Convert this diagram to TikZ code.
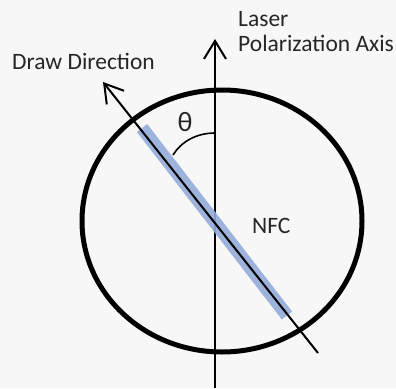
\documentclass[tikz,border=0pt]{standalone}
\usepackage{fontspec}
\setmainfont{Carlito}
\usetikzlibrary{arrows.meta}
\definecolor{bgc}{RGB}{247,247,247}
\definecolor{bandc}{RGB}{148,172,218}
\begin{document}
\begin{tikzpicture}[x=1pt,y=-1pt,
  lbl/.style={inner sep=0pt,font=\fontsize{23.5}{25}\selectfont,text=black!85},
  axisline/.style={line width=2pt,-{Straight Barb[length=18pt,width=22pt]}},
  band/.style={line width=13pt,draw=bandc,opacity=0.9}]
\fill[bgc] (0,0) rectangle (396,388);
\useasboundingbox (0,0) rectangle (396,388);
% coordinates
\coordinate (c) at (222,221);
\coordinate (vbot) at (215,388);
\coordinate (vtop) at (215,39);
\coordinate (dbot) at (318,353);
\coordinate (dtop) at (103,82);
\coordinate (b1) at (142,128);
\coordinate (b2) at (287,315.5);
\coordinate (a1) at (215,133);
\coordinate (a2) at (173,155);
% ellipse
\draw[line width=5pt] (c) ellipse [x radius=140pt, y radius=131pt];
% vertical axis
\draw[axisline] (vbot) -- (vtop);
% band
\draw[band] (b1) -- (b2);
% diagonal
\draw[axisline] (dbot) -- (dtop);
% angle arc
\draw[line width=1.6pt] (a1) .. controls (196,133) and (181,142) .. (a2);
% labels
\node[lbl,anchor=base west] (dd) at (12,69) {Draw Direction};
\node[lbl,anchor=base west] (laser) at (238,26.7) {Laser};
\node[lbl,anchor=base west] (pol) at (238,51.7) {Polarization Axis};
\node[lbl,anchor=base west] (nfc) at (252,233) {NFC};
\node[inner sep=0pt,font=\fontsize{28}{30}\selectfont,text=black!85] (th) at (185,122) {θ};
\end{tikzpicture}
\end{document}
